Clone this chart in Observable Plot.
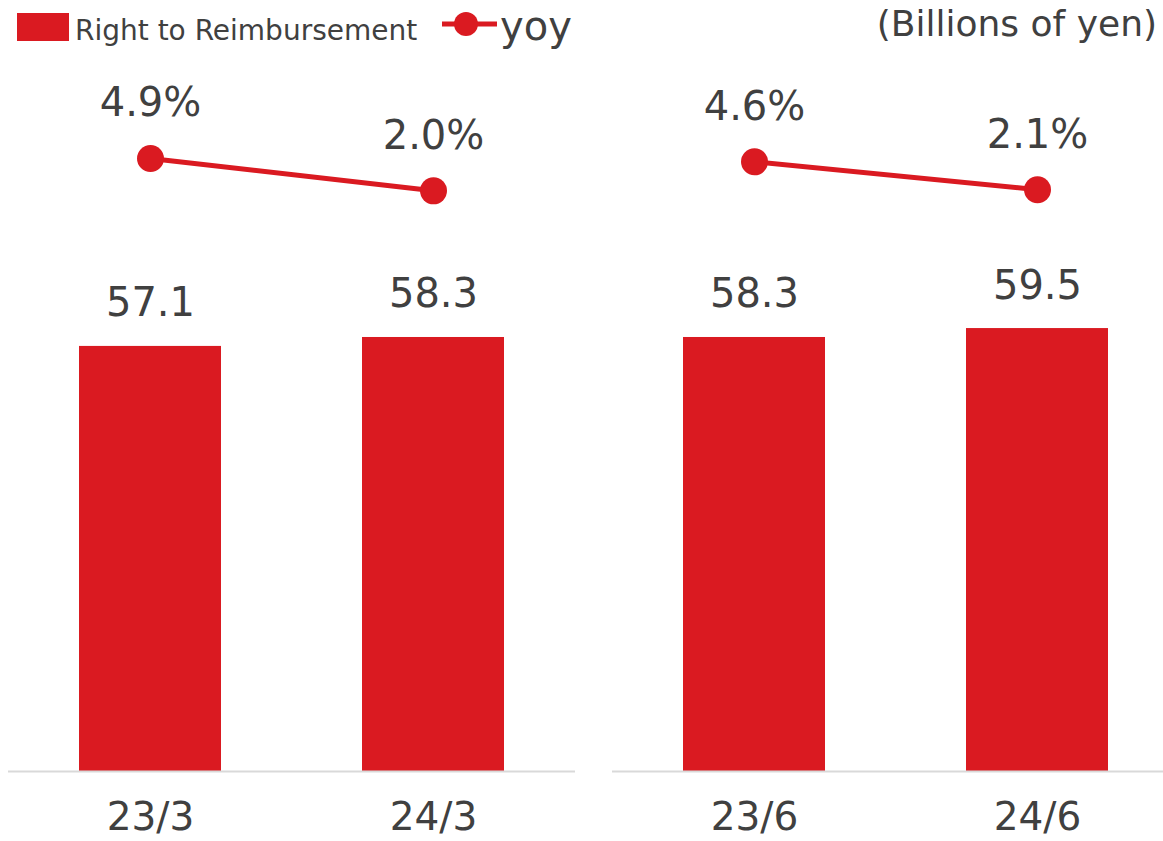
<!DOCTYPE html>
<html>
<head>
<meta charset="utf-8">
<script src="https://cdn.jsdelivr.net/npm/d3@7"></script>
<script src="https://cdn.jsdelivr.net/npm/@observablehq/plot@0.6"></script>
<style>
  html, body { margin: 0; padding: 0; background: #fff; overflow: hidden; width: 1163px; height: 841px; }
  #legend { display: block; }
  #chart { width: 1163px; height: 791px; overflow: hidden; position: relative; }
  #chart svg { display: block; max-width: none; }
</style>
</head>
<body>
<svg id="legend" width="1163" height="50"></svg>
<div id="chart"></div>
<script>
// ---- data ----
const categories = ["23/3", "24/3", "23/6", "24/6"];
const panelOf = ["March", "March", "June", "June"];
const slotOf = ["prev", "curr", "prev", "curr"];
const reimbursement = [57.1, 58.3, 58.3, 59.5]; // billions of yen
const yoy = [4.9, 2.0, 4.6, 2.1];              // percent
const panels = ["March", "June"];
const barAxis = [0, 90];     // primary axis range
const yoyAxis = [-50, 10];   // secondary axis range (%)

const RED = "#DA1A21";
const TEXT = "#404040";
const FONT = "DejaVu Sans, Verdana, sans-serif";

const rows = categories.map((c, i) => ({
  category: c, panel: panelOf[i], slot: slotOf[i],
  value: reimbursement[i], yoy: yoy[i]
}));

// map secondary-axis value onto primary-axis units
const toPrimary = v => barAxis[0] + (v - yoyAxis[0]) / (yoyAxis[1] - yoyAxis[0]) * (barAxis[1] - barAxis[0]);

// ---- legend ----
const lg = d3.select("#legend");
lg.append("rect").attr("x", 17).attr("y", 13).attr("width", 52).attr("height", 28).attr("fill", RED);
lg.append("text").attr("x", 75).attr("y", 40).attr("font-family", FONT).attr("font-size", 28)
  .attr("fill", TEXT).text("Right to Reimbursement");
lg.append("line").attr("x1", 442).attr("x2", 497).attr("y1", 24).attr("y2", 24)
  .attr("stroke", RED).attr("stroke-width", 5);
lg.append("circle").attr("cx", 466).attr("cy", 24).attr("r", 12).attr("fill", RED);
lg.append("text").attr("x", 500).attr("y", 40).attr("font-family", FONT).attr("font-size", 40)
  .attr("fill", TEXT).text("yoy");
lg.append("text").attr("x", 1157).attr("y", 36).attr("text-anchor", "end").attr("font-family", FONT)
  .attr("font-size", 36).attr("fill", TEXT).text("(Billions of yen)");

// ---- chart ----
const chart = Plot.plot({
  width: 1180,
  height: 791,
  marginLeft: 8,
  marginRight: 1,
  marginTop: 51,
  marginBottom: 70,
  style: { fontFamily: FONT, background: "#fff" },
  fx: { domain: panels, paddingInner: 0.0613, paddingOuter: 0, axis: null, label: null },
  x: { domain: ["prev", "curr"], paddingInner: 0.5, paddingOuter: 0.25, axis: null, label: null },
  y: { domain: barAxis, axis: null, label: null },
  marks: [
    Plot.barY(rows, { fx: "panel", x: "slot", y: "value", fill: RED }),
    Plot.ruleY([0], { stroke: "#d9d9d9", strokeWidth: 2 }),
    Plot.text(rows, {
      fx: "panel", x: "slot", y: "value", text: d => d.value.toFixed(1),
      lineAnchor: "bottom", dy: -30, fontSize: 40, fill: TEXT
    }),
    Plot.line(rows, {
      fx: "panel", x: "slot", y: d => toPrimary(d.yoy), z: "panel",
      stroke: RED, strokeWidth: 5
    }),
    Plot.dot(rows, {
      fx: "panel", x: "slot", y: d => toPrimary(d.yoy), r: 13.5, fill: RED, stroke: "none"
    }),
    Plot.text(rows, {
      fx: "panel", x: "slot", y: d => toPrimary(d.yoy), text: d => d.yoy.toFixed(1) + "%",
      lineAnchor: "bottom", dy: -42, fontSize: 40, fill: TEXT
    }),
    Plot.text(rows, {
      fx: "panel", x: "slot", text: "category", frameAnchor: "bottom",
      lineAnchor: "bottom", dy: 58, fontSize: 39, fill: TEXT
    })
  ]
});
document.getElementById("chart").appendChild(chart);
</script>
</body>
</html>
